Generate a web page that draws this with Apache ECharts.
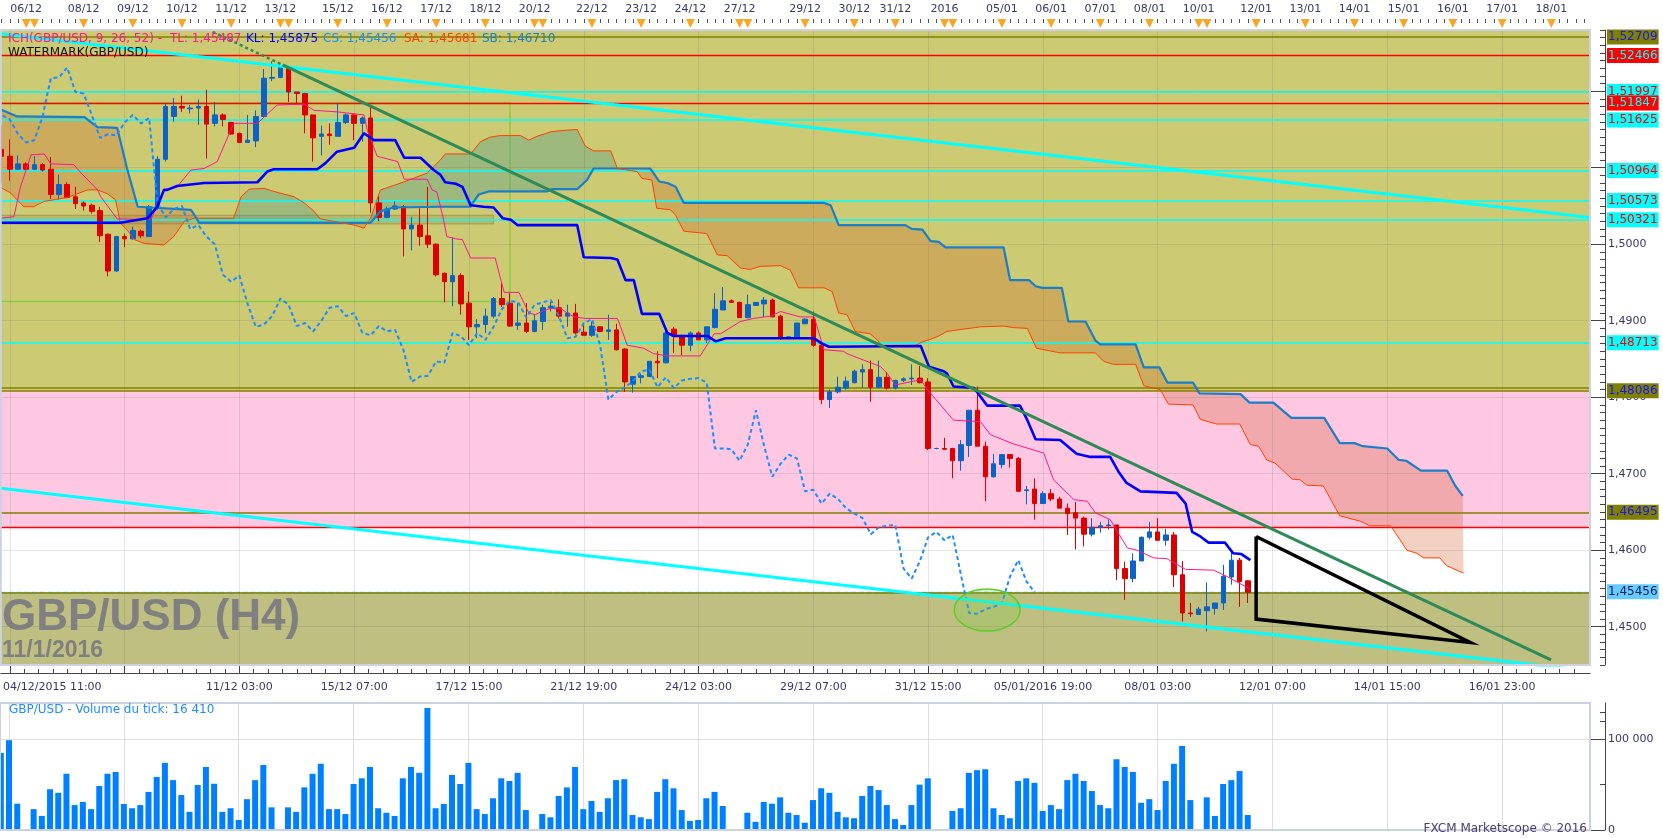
<!DOCTYPE html>
<html><head><meta charset="utf-8">
<script src="https://cdn.jsdelivr.net/npm/echarts@6/dist/echarts.min.js"></script>
<style>html,body{margin:0;padding:0;background:#fff;overflow:hidden}#c{width:1663px;height:838px}</style>
</head><body><div id="c"></div>
<script>
// ---------- DATA ----------
const firstIndex = -1; // candle index of the first (partly visible) candle
const opens = [1.5124,1.5115,1.5098,1.5105,1.5098,1.5104,1.5098,1.5065,1.5078,1.5062,1.5054,1.5051,1.5044,1.5013,1.4965,1.5010,1.5007,1.5017,1.5010,1.5049,1.5111,1.5167,1.5180,1.5177,1.5178,1.5180,1.5158,1.5169,1.5159,1.5145,1.5133,1.5135,1.5167,1.5217,1.5218,1.5230,1.5199,1.5197,1.5169,1.5141,1.5144,1.5141,1.5159,1.5169,1.5158,1.5165,1.5054,1.5035,1.5046,1.5049,1.5020,1.5025,1.5011,1.5000,1.4962,1.4951,1.4959,1.4923,1.4892,1.4895,1.4906,1.4929,1.4923,1.4894,1.4897,1.4886,1.4899,1.4917,1.4917,1.4906,1.4910,1.4885,1.4881,1.4892,1.4886,1.4888,1.4863,1.4817,1.4826,1.4827,1.4847,1.4845,1.4889,1.4880,1.4868,1.4884,1.4875,1.4891,1.4914,1.4926,1.4924,1.4904,1.4920,1.4922,1.4927,1.4906,1.4877,1.4877,1.4896,1.4902,1.4868,1.4797,1.4807,1.4812,1.4819,1.4833,1.4836,1.4813,1.4826,1.4812,1.4822,1.4824,1.4825,1.4820,1.4733,1.4733,1.4733,1.4717,1.4737,1.4783,1.4736,1.4696,1.4712,1.4725,1.4720,1.4678,1.4680,1.4661,1.4674,1.4667,1.4655,1.4649,1.4642,1.4621,1.4630,1.4632,1.4633,1.4576,1.4563,1.4586,1.4617,1.4624,1.4613,1.4620,1.4568,1.4518,1.4516,1.4521,1.4524,1.4531,1.4565,1.4587,1.4560];
const closes = [1.5115,1.5098,1.5105,1.5098,1.5104,1.5097,1.5065,1.5078,1.5061,1.5053,1.5050,1.5043,1.5011,1.4965,1.5010,1.5007,1.5018,1.5011,1.5049,1.5111,1.5180,1.5180,1.5178,1.5178,1.5180,1.5157,1.5169,1.5163,1.5144,1.5133,1.5136,1.5167,1.5217,1.5218,1.5231,1.5199,1.5197,1.5169,1.5139,1.5144,1.5142,1.5159,1.5169,1.5158,1.5165,1.5054,1.5035,1.5046,1.5050,1.5020,1.5025,1.5010,1.5000,1.4960,1.4951,1.4959,1.4922,1.4892,1.4895,1.4906,1.4929,1.4921,1.4893,1.4897,1.4886,1.4900,1.4917,1.4919,1.4906,1.4910,1.4884,1.4881,1.4893,1.4886,1.4888,1.4862,1.4820,1.4827,1.4828,1.4847,1.4845,1.4884,1.4880,1.4868,1.4884,1.4875,1.4892,1.4915,1.4926,1.4924,1.4904,1.4921,1.4924,1.4927,1.4905,1.4877,1.4879,1.4897,1.4902,1.4868,1.4797,1.4807,1.4813,1.4821,1.4834,1.4836,1.4813,1.4826,1.4812,1.4822,1.4824,1.4825,1.4819,1.4733,1.4733,1.4732,1.4717,1.4738,1.4783,1.4736,1.4696,1.4713,1.4725,1.4720,1.4677,1.4679,1.4661,1.4674,1.4667,1.4655,1.4648,1.4642,1.4621,1.4630,1.4632,1.4633,1.4576,1.4563,1.4586,1.4617,1.4624,1.4613,1.4620,1.4568,1.4518,1.4517,1.4523,1.4526,1.4531,1.4566,1.4587,1.4559,1.4545];
const highs = [1.5155,1.5137,1.5116,1.5107,1.5115,1.5106,1.5114,1.5091,1.5081,1.5075,1.5056,1.5053,1.5049,1.5014,1.5011,1.5014,1.5023,1.5019,1.5051,1.5115,1.5184,1.5191,1.5194,1.5182,1.5189,1.5202,1.5186,1.5171,1.5160,1.5146,1.5169,1.5175,1.5229,1.5239,1.5232,1.5232,1.5199,1.5198,1.5169,1.5155,1.5158,1.5184,1.5171,1.5171,1.5167,1.5182,1.5064,1.5049,1.5056,1.5051,1.5036,1.5047,1.5075,1.5001,1.4963,1.5009,1.4962,1.4938,1.4902,1.4916,1.4931,1.4949,1.4936,1.4923,1.4923,1.4908,1.4921,1.4925,1.4928,1.4921,1.4922,1.4894,1.4899,1.4893,1.4908,1.4896,1.4864,1.4827,1.4831,1.4847,1.4860,1.4890,1.4892,1.4882,1.4886,1.4886,1.4892,1.4936,1.4944,1.4928,1.4925,1.4934,1.4924,1.4931,1.4929,1.4908,1.4880,1.4897,1.4903,1.4912,1.4873,1.4810,1.4827,1.4827,1.4836,1.4843,1.4848,1.4848,1.4833,1.4823,1.4826,1.4843,1.4841,1.4825,1.4734,1.4747,1.4734,1.4744,1.4783,1.4814,1.4742,1.4726,1.4725,1.4725,1.4722,1.4684,1.4694,1.4677,1.4680,1.4670,1.4661,1.4663,1.4644,1.4642,1.4637,1.4640,1.4633,1.4585,1.4596,1.4618,1.4637,1.4642,1.4628,1.4624,1.4586,1.4531,1.4526,1.4558,1.4531,1.4581,1.4598,1.4590,1.4561];
const lows = [1.5081,1.5083,1.5097,1.5097,1.5097,1.5095,1.5059,1.5058,1.5060,1.5046,1.5044,1.5040,1.5003,1.4958,1.4964,1.4996,1.5006,1.5008,1.5010,1.5045,1.5108,1.5160,1.5173,1.5171,1.5156,1.5112,1.5154,1.5154,1.5143,1.5132,1.5133,1.5127,1.5165,1.5213,1.5217,1.5186,1.5184,1.5145,1.5108,1.5116,1.5130,1.5141,1.5157,1.5136,1.5134,1.5041,1.5030,1.5034,1.5045,1.4984,1.4992,1.4998,1.4995,1.4958,1.4924,1.4919,1.4908,1.4875,1.4877,1.4884,1.4903,1.4918,1.4892,1.4888,1.4884,1.4885,1.4888,1.4912,1.4903,1.4892,1.4882,1.4881,1.4879,1.4885,1.4875,1.4861,1.4807,1.4806,1.4818,1.4827,1.4825,1.4844,1.4858,1.4855,1.4860,1.4875,1.4871,1.4890,1.4914,1.4924,1.4904,1.4904,1.4920,1.4905,1.4905,1.4875,1.4876,1.4877,1.4896,1.4866,1.4791,1.4786,1.4805,1.4810,1.4818,1.4812,1.4794,1.4813,1.4810,1.4810,1.4820,1.4816,1.4818,1.4731,1.4732,1.4731,1.4694,1.4704,1.4722,1.4736,1.4664,1.4695,1.4707,1.4708,1.4677,1.4660,1.4640,1.4661,1.4664,1.4655,1.4620,1.4601,1.4605,1.4618,1.4623,1.4627,1.4561,1.4535,1.4558,1.4586,1.4614,1.4613,1.4606,1.4552,1.4507,1.4513,1.4516,1.4494,1.4516,1.4522,1.4555,1.4526,1.4531];
const volumes = [85000,99000,29000,1000,23000,15500,45000,41000,62000,27500,31000,23000,48500,62000,64000,28700,24000,27500,42000,58500,74000,55000,38600,20000,49600,69500,51000,20000,24000,11000,34000,55000,71700,25000,1000,25000,20000,47000,62000,73000,23000,23000,17600,50700,57000,69500,24000,19000,15500,57000,69500,63000,134500,24000,28700,60700,50700,74000,23000,17600,35000,57000,54000,63000,22000,1000,17600,14000,37500,47000,69500,23000,32000,20000,35000,55000,56000,16500,14000,12000,42000,56000,46000,22000,10000,11000,35000,42000,26500,1000,1000,19000,9000,31000,29000,36000,19000,16500,8000,33000,46000,41000,20000,14000,13000,37500,48500,44000,27500,12000,5500,27500,50000,57000,1000,1000,21000,24000,63000,66000,67000,24000,16500,13000,54000,57000,52000,21000,27500,23000,55000,62000,54000,43000,27500,24000,78000,69500,64000,30000,34000,22000,54000,73000,92600,33000,1000,36000,15500,50700,55000,65000,16500];

// Ichimoku lines: [candle index, price] corner points
const tenkanPts = [[-1.1,1.5034],[0.5,1.5036],[1.3,1.5075],[2.6,1.5117],[4.2,1.5118],[5.0,1.5105],[7.8,1.5104],[8.7,1.5093],[10.7,1.5071],[11.1,1.5062],[13.1,1.5033],[17.2,1.5032],[18.8,1.5071],[20.4,1.5075],[22.1,1.5097],[23.7,1.5099],[25.3,1.5108],[27.3,1.5158],[30.2,1.5158],[32.6,1.5182],[35.9,1.5183],[37.1,1.5175],[39.9,1.5173],[43.2,1.5169],[43.6,1.5149],[44.8,1.5115],[47.3,1.5108],[48.1,1.5085],[50.9,1.5085],[51.5,1.5071],[52.1,1.5068],[52.9,1.5032],[53.3,1.5010],[54.4,1.5007],[55.2,1.5006],[56.2,1.4982],[59.2,1.4982],[59.9,1.4953],[60.3,1.4937],[62.1,1.4937],[63.3,1.4910],[64.1,1.4908],[65.1,1.4913],[65.9,1.4916],[67.2,1.4916],[68.0,1.4910],[68.8,1.4905],[70.2,1.4903],[74.1,1.4903],[74.5,1.4892],[75.3,1.4868],[77.3,1.4864],[78.5,1.4857],[80.2,1.4854],[84.2,1.4854],[85.9,1.4883],[86.7,1.4883],[89.1,1.4899],[90.7,1.4903],[92.8,1.4906],[94.0,1.4912],[96.4,1.4905],[98.1,1.4905],[99.3,1.4862],[101.7,1.4860],[102.1,1.4857],[106.2,1.4840],[107.0,1.4831],[108.0,1.4816],[111.1,1.4823],[111.9,1.4810],[115.1,1.4770],[118.4,1.4768],[119.6,1.4751],[122.4,1.4739],[126.1,1.4727],[127.3,1.4692],[129.8,1.4666],[131.4,1.4664],[132.4,1.4649],[134.2,1.4640],[136.3,1.4603],[137.5,1.4600],[139.5,1.4590],[141.1,1.4589],[143.4,1.4575],[146.8,1.4574],[148.4,1.4566],[151.3,1.4549]];
const kijunPts = [[-1.1,1.5028],[13.5,1.5028],[16.8,1.5034],[18.0,1.5049],[18.8,1.5071],[19.2,1.5071],[20.4,1.5076],[23.7,1.5080],[30.2,1.5081],[31.4,1.5095],[32.2,1.5098],[37.5,1.5098],[38.5,1.5106],[39.9,1.5121],[42.0,1.5126],[43.2,1.5145],[44.4,1.5136],[47.0,1.5136],[48.1,1.5113],[50.1,1.5113],[51.7,1.5097],[52.5,1.5091],[53.1,1.5081],[54.4,1.5079],[55.2,1.5075],[56.2,1.5051],[57.8,1.5049],[59.0,1.5048],[60.1,1.5034],[61.1,1.5032],[61.9,1.5025],[69.2,1.5025],[70.0,1.4983],[73.3,1.4982],[74.1,1.4980],[75.1,1.4953],[76.1,1.4953],[77.1,1.4909],[79.2,1.4909],[80.2,1.4884],[81.0,1.4880],[85.1,1.4880],[86.1,1.4873],[87.3,1.4877],[98.1,1.4877],[98.9,1.4871],[99.9,1.4866],[111.1,1.4867],[112.1,1.4840],[113.9,1.4834],[114.3,1.4831],[115.1,1.4814],[117.6,1.4812],[119.2,1.4789],[123.2,1.4789],[124.1,1.4770],[125.1,1.4745],[128.1,1.4744],[130.1,1.4726],[131.8,1.4722],[134.2,1.4722],[135.2,1.4703],[136.2,1.4688],[137.9,1.4677],[142.3,1.4675],[143.4,1.4661],[144.2,1.4624],[145.2,1.4618],[146.2,1.4610],[148.2,1.4610],[149.2,1.4596],[150.2,1.4595],[151.3,1.4587]];
const spanAPts = [[-1.1,1.5074],[0.1,1.5067],[1.7,1.5049],[2.9,1.5049],[4.2,1.5056],[7.0,1.5061],[9.5,1.5071],[10.7,1.5071],[11.9,1.5066],[12.9,1.5058],[13.5,1.5027],[14.3,1.5019],[15.2,1.5006],[16.4,1.5001],[18.8,1.4999],[20.0,1.5010],[21.3,1.5030],[22.5,1.5034],[22.75,1.5034],[27.3,1.5034],[28.2,1.5062],[29.2,1.5072],[31.0,1.5073],[32.2,1.5069],[34.7,1.5062],[35.9,1.5054],[37.1,1.5043],[37.9,1.5033],[40.5,1.5028],[42.0,1.5025],[43.2,1.5021],[43.6,1.5028],[44.0,1.5034],[45.2,1.5071],[47.7,1.5080],[50.9,1.5093],[52.5,1.5110],[53.1,1.5118],[56.2,1.5118],[57.4,1.5134],[58.6,1.5140],[59.8,1.5142],[62.3,1.5142],[63.3,1.5136],[64.3,1.5141],[66.0,1.5147],[67.8,1.5149],[69.2,1.5150],[70.2,1.5128],[71.2,1.5122],[73.3,1.5122],[74.1,1.5099],[76.5,1.5095],[77.1,1.5086],[78.3,1.5084],[78.9,1.5047],[80.6,1.5045],[81.2,1.5038],[82.2,1.5017],[85.0,1.5014],[86.3,1.4986],[87.5,1.4985],[89.1,1.4969],[90.3,1.4967],[91.5,1.4971],[94.0,1.4972],[95.2,1.4966],[96.2,1.4943],[99.3,1.4943],[100.3,1.4938],[101.1,1.4910],[102.1,1.4908],[103.1,1.4886],[104.9,1.4883],[105.8,1.4875],[106.2,1.4869],[107.0,1.4866],[110.2,1.4866],[111.0,1.4871],[113.1,1.4879],[114.3,1.4886],[116.3,1.4889],[118.4,1.4892],[121.2,1.4893],[122.4,1.4891],[124.1,1.4890],[125.2,1.4864],[128.1,1.4858],[132.4,1.4858],[133.4,1.4847],[134.6,1.4843],[137.3,1.4843],[138.3,1.4815],[140.3,1.4810],[141.3,1.4791],[144.3,1.4790],[145.2,1.4771],[147.2,1.4765],[150.0,1.4765],[151.3,1.4738],[152.3,1.4736],[153.3,1.4718],[154.3,1.4714],[156.4,1.4693],[157.4,1.4692],[158.2,1.4685],[160.2,1.4684],[162.2,1.4645],[164.7,1.4638],[165.9,1.4632],[168.4,1.4632],[170.4,1.4600],[171.6,1.4596],[172.4,1.4590],[174.4,1.4590],[175.2,1.4580],[177.3,1.4570]];
const spanBPts = [[-1.1,1.5176],[0.9,1.5167],[9.1,1.5166],[10.7,1.5153],[13.1,1.5152],[14.3,1.5099],[15.6,1.5049],[22.1,1.5045],[22.75,1.5034],[23.1,1.5028],[40.5,1.5028],[43.6,1.5028],[44.0,1.5028],[45.2,1.5043],[46.8,1.5048],[52.5,1.5049],[56.2,1.5049],[56.4,1.5053],[57.2,1.5065],[58.4,1.5069],[65.5,1.5069],[66.2,1.5072],[69.2,1.5072],[70.4,1.5084],[71.2,1.5099],[74.1,1.5099],[78.1,1.5099],[79.2,1.5082],[80.2,1.5080],[81.2,1.5075],[82.2,1.5054],[99.3,1.5054],[100.1,1.5051],[101.1,1.5025],[109.2,1.5025],[110.0,1.5020],[111.3,1.5019],[112.3,1.5004],[113.3,1.5003],[114.1,1.4996],[121.2,1.4996],[122.0,1.4953],[124.3,1.4953],[125.1,1.4945],[125.9,1.4943],[128.3,1.4943],[129.1,1.4899],[131.2,1.4899],[132.4,1.4874],[133.0,1.4869],[137.3,1.4869],[138.3,1.4839],[140.2,1.4839],[141.2,1.4819],[144.3,1.4819],[145.1,1.4805],[150.1,1.4804],[151.2,1.4793],[154.1,1.4793],[156.3,1.4773],[160.3,1.4773],[162.2,1.4740],[164.0,1.4740],[165.0,1.4736],[168.0,1.4733],[169.4,1.4718],[170.3,1.4717],[172.1,1.4704],[175.3,1.4704],[176.3,1.4684],[177.2,1.4671]];
const chikouShift = 26;
// cloud segments between crossings of span A and span B
const cloudRegions = [[-1.1,22.75,'bear'],[22.75,40.5,'bull'],[40.5,43.6,'bear'],[43.6,74.1,'bull'],[74.1,177.3,'bear']];

// horizontal price levels
const levelValues = [1.52709,1.52466,1.51997,1.51847,1.51625,1.50964,1.50573,1.50321,1.48713,1.48086,1.46495,1.45456];
const levelKinds  = ['olive','red','cyan','red','cyan','cyan','cyan','cyan','cyan','olive','olive','price'];
const plainLevelValues = [1.4813,1.4630,1.4544];
const plainLevelKinds  = ['olive','red','olive'];
// background zones [from, to, colour key]
const zones = [[1.48086,1.528,'olive'],[1.4630,1.48086,'pink'],[1.445,1.4545,'low']];
// drawn objects
const upperChannel = [[-1.1,1.5275],[192.72,1.5035]];
const lowerChannel = [[-1.1,1.4681],[192.72,1.4442]];
const greenDotted = [[24.74,1.52775],[33.28,1.52343]];
const greenLine = [[33.28,1.52343],[187.97,1.44567]];
const triangle = [[152.0,1.4618],[152.0,1.4510],[178.1,1.44795],[152.0,1.4618]];
const ellipseCenter = [119.2,1.4522];
const limeBox = [[-1.1,1.5185],[61,1.4925]];
const greyBox = [[-1.1,1.50379],[59,1.50265]];

// axes labels
const gridIdx = [0,14,28,42,56,70,84,98,112,126,140,154,168,182];
const bottomIdx = [0,28,42,56,70,84,98,112,126,140,154,168,182];
const bottomLabels = ['04/12/2015 11:00','11/12 03:00','15/12 07:00','17/12 15:00','21/12 19:00','24/12 03:00','29/12 07:00','31/12 15:00','05/01/2016 19:00','08/01 03:00','12/01 07:00','14/01 15:00','16/01 23:00'];
const topIdx = [2,9,15,21,27,33,40,46,52,58,64,71,77,83,89,97,103,108,114,121,127,133,139,145,152,158,164,170,176,182,188];
const topLabels = ['06/12','08/12','09/12','10/12','11/12','13/12','15/12','16/12','17/12','18/12','20/12','22/12','23/12','24/12','27/12','29/12','30/12','31/12','2016','05/01','06/01','07/01','08/01','10/01','12/01','13/01','14/01','15/01','16/01','17/01','18/01'];
const dayMarkIdx = [2,3,9,15,21,27,33,34,40,46,52,58,64,65,71,77,83,89,90,97,103,108,114,115,121,127,133,139,145,146,152,158,164,170,176,182,188];
const priceTicks = [1.45,1.46,1.47,1.48,1.49,1.50,1.51,1.52];
const volTicks = [0,100000];
const volTickLabels = ['0','100 000'];
const legendNames = ['TL','KL','CS','SA','SB'];
const legendValues = [1.45487,1.45875,1.45456,1.45681,1.46710];
const lastVolumeText = '16 410';

// ---------- CHART ----------
const X_MIN = -1.1, X_MAX = 192.72, P_MIN = 1.445, P_MAX = 1.528, V_MAX = 140000;
const FONT = 'DejaVu Sans';
const AX_COLOR = '#36366a';
const idx = opens.map((_, k) => firstIndex + k);
const candleData = opens.map((o, k) => [idx[k], o, closes[k], lows[k], highs[k]]);
const volumeData = volumes.map((v, k) => [idx[k], v]);
const chikouData = closes.map((c, k) => [idx[k] - chikouShift, c]);
const comma = (v, d) => v.toFixed(d).replace('.', ',');
const lookup = (vals, labels) => v => { for (let k = 0; k < vals.length; k++) if (Math.abs(vals[k] - v) < 1e-6) return labels[k]; return ''; };

const xMinor = []; for (let k = 0; k * 1.75 <= 192; k++) xMinor.push(+(k * 1.75).toFixed(2));
const topMinor = []; for (let v = -1; v <= 192; v++) topMinor.push(v);
const yMinor = []; for (let k = 1445; k <= 1528; k++) yMinor.push(k / 1000);

const zoneColor = {olive: '#cccb74', pink: '#ffc8e2', low: '#bfbf81'};
const lvlStyle = {
  olive: {line: '#808000', w: 1.5, type: 'solid', bg: '#808000', fg: '#1414ff'},
  red:   {line: '#ff0000', w: 1.3, type: 'solid', bg: '#ff0000', fg: '#00ffff'},
  cyan:  {line: '#00ffff', w: 1.6, type: 'solid', bg: '#00ffff', fg: '#ff0000'},
  price: {line: '#66ccff', w: 1.3, type: 'dashed', bg: '#66ccff', fg: '#20205a'}
};
const levelMarks = levelValues.map((v, k) => {
  const s = lvlStyle[levelKinds[k]];
  return {yAxis: v, lineStyle: {color: s.line, width: s.w, type: s.type},
    label: {show: true, position: 'end', distance: 17, formatter: comma(v, 5), backgroundColor: s.bg, color: s.fg,
      padding: [2, 1, 1, 1], fontFamily: FONT, fontSize: 12}};
}).concat(plainLevelValues.map((v, k) => {
  const s = lvlStyle[plainLevelKinds[k]];
  return {yAxis: v, lineStyle: {color: s.line, width: s.w, type: s.type}, label: {show: false}};
}));

const bearFill = 'rgba(210,88,35,0.28)';
const bullFill = 'rgba(71,153,143,0.35)';
const inRange = (p, a, b) => p[0] >= a - 1e-9 && p[0] <= b + 1e-9;

const mainAx = {xAxisIndex: 0, yAxisIndex: 0};
const option = {
  animation: false,
  backgroundColor: '#ffffff',
  grid: [
    {left: 0, top: 30, width: 1590, height: 635, show: true, backgroundColor: 'rgba(0,0,0,0)', borderColor: '#cdd2e2', borderWidth: 2, z: 50},
    {left: 0, top: 703, width: 1590, height: 127, show: true, backgroundColor: 'rgba(0,0,0,0)', borderColor: '#cdd2e2', borderWidth: 2, z: 50}
  ],
  xAxis: [
    {type: 'value', gridIndex: 0, min: X_MIN, max: X_MAX, position: 'bottom', offset: 8,
      axisLine: {show: true, onZero: false, lineStyle: {color: '#444', width: 1}},
      axisTick: {show: true, inside: true, length: 11, customValues: gridIdx, lineStyle: {color: '#444'}},
      axisLabel: {show: true, customValues: bottomIdx, margin: 9, color: AX_COLOR, fontFamily: FONT, fontSize: 11,
        formatter: v => { const s = lookup(bottomIdx, bottomLabels)(v); return Math.abs(v) < 1e-6 ? '{first|' + s + '}' : s; },
        rich: {first: {padding: [0, 0, 0, 85], color: AX_COLOR, fontFamily: FONT, fontSize: 11}}},
      splitLine: {show: false}},
    {type: 'value', gridIndex: 0, min: X_MIN, max: X_MAX, position: 'top', offset: 11,
      axisLine: {show: false, onZero: false},
      axisTick: {show: true, inside: true, length: 4, customValues: topMinor, lineStyle: {color: '#555'}},
      axisLabel: {show: true, customValues: topIdx, margin: 4, color: AX_COLOR, fontFamily: FONT, fontSize: 11, formatter: lookup(topIdx, topLabels)},
      splitLine: {show: false}},
    {type: 'value', gridIndex: 0, min: X_MIN, max: X_MAX, position: 'bottom', offset: 8,
      axisLine: {show: false, onZero: false}, axisLabel: {show: false},
      axisTick: {show: true, inside: true, length: 4, customValues: xMinor, lineStyle: {color: '#444'}},
      splitLine: {show: false}},
    {type: 'value', gridIndex: 1, min: X_MIN, max: X_MAX, show: false,
      axisLine: {onZero: false}, splitLine: {show: false}}
  ],
  yAxis: [
    {type: 'value', gridIndex: 0, min: P_MIN, max: P_MAX, position: 'right', offset: 15,
      axisLine: {show: true, onZero: false, lineStyle: {color: '#444'}},
      axisTick: {show: true, inside: true, length: 14, customValues: priceTicks, lineStyle: {color: '#444'}},
      axisLabel: {show: true, customValues: priceTicks, margin: 3, color: AX_COLOR, fontFamily: FONT, fontSize: 11, formatter: v => comma(v, 4)},
      splitLine: {show: false}},
    {type: 'value', gridIndex: 0, min: P_MIN, max: P_MAX, position: 'right', offset: 15,
      axisLine: {show: false, onZero: false}, axisLabel: {show: false},
      axisTick: {show: true, inside: true, length: 5, customValues: yMinor, lineStyle: {color: '#444'}},
      splitLine: {show: false}},
    {type: 'value', gridIndex: 1, min: 0, max: V_MAX, position: 'right', offset: 15,
      axisLine: {show: true, onZero: false, lineStyle: {color: '#444'}},
      axisTick: {show: true, inside: true, length: 14, customValues: volTicks, lineStyle: {color: '#444'}},
      axisLabel: {show: true, customValues: volTicks, margin: 3, color: AX_COLOR, fontFamily: FONT, fontSize: 11, formatter: lookup(volTicks, volTickLabels)},
      splitLine: {show: false}},
    {type: 'value', gridIndex: 1, min: 0, max: V_MAX, position: 'right', offset: 15,
      axisLine: {show: false, onZero: false}, axisLabel: {show: false},
      axisTick: {show: true, inside: true, length: 5, customValues: [50000, 120000, 130000], lineStyle: {color: '#444'}},
      splitLine: {show: false}}
  ],
  series: [
    // background zones
    {type: 'line', ...mainAx, data: [], z: 1, silent: true,
      markArea: {silent: true, precision: 6, data: zones.map(z => [{yAxis: z[0], itemStyle: {color: zoneColor[z[2]]}}, {yAxis: z[1]}])}},
    // grid lines
    {type: 'line', ...mainAx, data: [], z: 2, silent: true,
      markLine: {silent: true, precision: 6, symbol: ['none', 'none'], label: {show: false},
        lineStyle: {color: 'rgba(100,100,100,0.17)', width: 1, type: 'solid'},
        data: gridIdx.map(v => ({xAxis: v})).concat(priceTicks.map(v => ({yAxis: v})))}},
    // kumo fill
    {type: 'custom', ...mainAx, z: 3, silent: true, data: cloudRegions.map(r => [r[0], 1.5]),
      renderItem: (params, api) => {
        const r = cloudRegions[params.dataIndex];
        const top = spanAPts.filter(p => inRange(p, r[0], r[1]));
        const bot = spanBPts.filter(p => inRange(p, r[0], r[1])).reverse();
        return {type: 'polygon', shape: {points: top.concat(bot).map(p => api.coord(p))},
          style: {fill: r[2] === 'bull' ? bullFill : bearFill}};
      }},
    // price levels
    {type: 'line', ...mainAx, data: [], z: 4, silent: true,
      markLine: {silent: true, precision: 6, symbol: ['none', 'none'], data: levelMarks}},
    // boxes
    {type: 'line', ...mainAx, data: [], z: 4, silent: true,
      markArea: {silent: true, precision: 6, data: [
        [{coord: limeBox[0], itemStyle: {color: 'rgba(0,0,0,0)', borderColor: '#88d03a', borderWidth: 1.5}}, {coord: limeBox[1]}],
        [{coord: greyBox[0], itemStyle: {color: 'rgba(120,110,60,0.22)', borderColor: 'rgba(120,110,60,0.45)', borderWidth: 1}}, {coord: greyBox[1]}]
      ]}},
    // candles
    {type: 'candlestick', ...mainAx, z: 5, silent: true, barWidth: 5, data: candleData, encode: {x: 0, y: [1, 2, 3, 4]},
      itemStyle: {color: '#0d63c5', color0: '#dd0000', borderColor: '#0d63c5', borderColor0: '#dd0000', borderColorDoji: '#0d63c5', borderWidth: 1}},
    // ichimoku lines
    {type: 'line', ...mainAx, z: 6, silent: true, data: spanBPts, symbol: 'none', lineStyle: {color: '#1a7fc6', width: 2.2}},
    {type: 'line', ...mainAx, z: 6, silent: true, data: spanAPts, symbol: 'none', lineStyle: {color: '#ff4000', width: 1}},
    {type: 'line', ...mainAx, z: 6, silent: true, data: tenkanPts, symbol: 'none', lineStyle: {color: '#ff1493', width: 1}},
    {type: 'line', ...mainAx, z: 6, silent: true, data: chikouData, symbol: 'none', lineStyle: {color: '#1e8cff', width: 2, type: [4, 3]}},
    {type: 'line', ...mainAx, z: 6, silent: true, data: kijunPts, symbol: 'none', lineStyle: {color: '#0000ff', width: 2.6}},
    // trend lines and drawings
    {type: 'line', ...mainAx, z: 7, silent: true, data: upperChannel, symbol: 'none', lineStyle: {color: '#00ffff', width: 3}},
    {type: 'line', ...mainAx, z: 7, silent: true, data: lowerChannel, symbol: 'none', lineStyle: {color: '#00ffff', width: 3}},
    {type: 'line', ...mainAx, z: 7, silent: true, data: greenDotted, symbol: 'none', lineStyle: {color: '#2e8b57', width: 2.5, type: [3, 3]}},
    {type: 'line', ...mainAx, z: 7, silent: true, data: greenLine, symbol: 'none', lineStyle: {color: '#2e8b57', width: 3}},
    {type: 'line', ...mainAx, z: 8, silent: true, data: triangle, symbol: 'none', lineStyle: {color: '#000000', width: 3.5, join: 'miter'}},
    {type: 'custom', ...mainAx, z: 8, silent: true, data: [ellipseCenter],
      renderItem: (params, api) => {
        const c = api.coord([api.value(0), api.value(1)]);
        return {type: 'ellipse', shape: {cx: c[0], cy: c[1], rx: 33, ry: 21},
          style: {fill: 'rgba(110,210,60,0.22)', stroke: '#5ccc2a', lineWidth: 1.5}};
      }},
    // day markers on the top axis
    {type: 'custom', ...mainAx, z: 9, silent: true, clip: false, data: dayMarkIdx.map(i => [i, 1.5]),
      renderItem: (params, api) => {
        const x = api.coord([api.value(0), 1.5])[0];
        return {type: 'polygon', shape: {points: [[x - 4.5, 19], [x + 4.5, 19], [x, 28]]}, style: {fill: '#f7a726'}};
      }},
    // volume panel
    {type: 'line', xAxisIndex: 3, yAxisIndex: 2, data: [], z: 2, silent: true,
      markLine: {silent: true, precision: 6, symbol: ['none', 'none'], label: {show: false},
        lineStyle: {color: '#dedee2', width: 1, type: 'solid'},
        data: gridIdx.map(v => ({xAxis: v})).concat([{yAxis: 100000}])}},
    {type: 'bar', xAxisIndex: 3, yAxisIndex: 2, z: 5, silent: true, barWidth: 6, data: volumeData, itemStyle: {color: '#0080ff'}}
  ],
  graphic: [
    {type: 'text', x: 8, y: 39, z: 100, style: {text: 'ICH(GBP/USD, 9, 26, 52) -', fill: '#ff1493', font: '12px "DejaVu Sans"', verticalAlign: 'middle'}},
    ...legendNames.map((n, k) => ({type: 'text', x: [170, 246, 323, 404, 482][k], y: 39, z: 100,
      style: {text: n + ': ' + comma(legendValues[k], 5), fill: ['#ff1493', '#0000ff', '#1e8cff', '#ff4000', '#1a7fc6'][k], font: '12px "DejaVu Sans"', verticalAlign: 'middle'}})),
    {type: 'text', x: 8, y: 53, z: 100, style: {text: 'WATERMARK(GBP/USD)', fill: '#111', font: '12px "DejaVu Sans"', verticalAlign: 'middle'}},
    {type: 'text', x: 2, y: 618, z: 100, style: {text: 'GBP/USD (H4)', fill: '#808080', font: 'bold 44px "Liberation Sans"', verticalAlign: 'middle'}},
    {type: 'text', x: 2, y: 651, z: 100, style: {text: '11/1/2016', fill: '#808080', font: 'bold 23px "Liberation Sans"', verticalAlign: 'middle'}},
    {type: 'text', x: 9, y: 710, z: 100, style: {text: 'GBP/USD - Volume du tick: ' + lastVolumeText, fill: '#1e8cff', font: '12px "DejaVu Sans"', verticalAlign: 'middle'}},
    {type: 'text', x: 1587, y: 829, z: 100, style: {text: 'FXCM Marketscope \u00a9 2016', fill: '#4a3d6e', font: '12px "DejaVu Sans"', verticalAlign: 'middle', align: 'right'}}
  ]
};
const chart = echarts.init(document.getElementById('c'), null, {renderer: 'canvas', width: 1663, height: 838});
chart.setOption(option);
</script>
</body></html>
